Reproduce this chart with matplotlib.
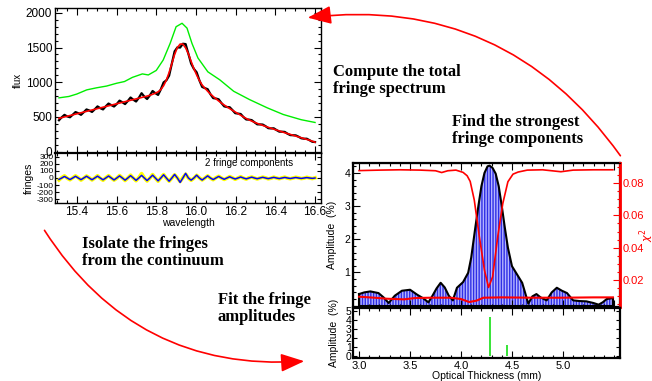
# Fringe fitting overview: flux / fringes on the left, fringe amplitudes on the right
import numpy as np
import matplotlib.pyplot as plt
from matplotlib.patches import FancyArrowPatch
from matplotlib.ticker import MultipleLocator

plt.rcParams['font.family'] = ['Liberation Sans', 'DejaVu Sans']
plt.rcParams['axes.unicode_minus'] = False
plt.rcParams['hatch.linewidth'] = 1.0

W, H = 652, 381

# ---------------- data ----------------
wavelength = np.linspace(15.31, 16.60, 94)

continuum = [480, 490, 500, 510, 520, 530, 540, 550, 560, 570,
             580, 590, 600, 610, 620, 630, 640, 650, 660, 670,
             680, 690, 700, 710, 720, 730, 740, 750, 760, 770,
             780, 790, 800, 812, 826, 842, 862, 895, 950, 1030,
             1140, 1270, 1400, 1500, 1550, 1550, 1495, 1410, 1300, 1195,
             1105, 1025, 960, 915, 870, 830, 795, 762, 730, 700,
             672, 645, 620, 596, 572, 548, 524, 500, 478, 458,
             440, 423, 407, 392, 378, 364, 350, 337, 324, 311,
             298, 285, 272, 260, 248, 236, 224, 212, 200, 188,
             176, 164, 150, 135]

fringe_data = [-28, 5, 30, -3, -25, 2, 30, 4, -30, -2, 28, 3,
               -28, 0, 32, -4, -32, 3, 33, 0, -30, -3, 35, 2,
               -35, 0, 40, -2, -38, 5, 62, 3, -42, -2, 48, 0,
               -45, 3, 48, -3, -45, 0, 45, 2, -50, 5, 55, 0,
               -32, -3, 38, 2, -28, 0, 30, -2, -24, 3, 24, 0,
               -20, -2, 20, 3, -18, 0, 18, -2, -15, 3, 14, 0,
               -14, 0, 12, 3, -12, -3, 12, 0, -10, 2, 12, -2,
               -10, 0, 10, 3, -8, -2, 10, 0, -8, 3]

fringe_model = [-20, 0, 22, 0, -22, 0, 24, 0, -23, 0, 25, 0,
                -24, 0, 26, 0, -25, 0, 28, 0, -27, 0, 30, 0,
                -30, 0, 33, 0, -33, 0, 37, 0, -36, 0, 40, 0,
                -40, 0, 45, 0, -45, 0, 50, 0, -62, 0, 65, 0,
                -30, 0, 40, 0, -28, 0, 30, 0, -22, 0, 22, 0,
                -18, 0, 17, 0, -14, 0, 14, 0, -12, 0, 12, 0,
                -10, 0, 10, 0, -9, 0, 9, 0, -8, 0, 8, 0,
                -7, 0, 7, 0, -6, 0, 6, 0, -5, 0]

green_wl = [15.31, 15.36, 15.40, 15.45, 15.50, 15.55, 15.60, 15.64, 15.68,
            15.73, 15.76, 15.80, 15.835, 15.87, 15.90, 15.93, 15.955, 15.98,
            16.01, 16.06, 16.12, 16.19, 16.27, 16.36, 16.44, 16.53, 16.60]
green_flux = [775, 795, 830, 890, 920, 945, 985, 1010, 1070,
              1120, 1105, 1170, 1320, 1560, 1800, 1850, 1780, 1560,
              1350, 1150, 1035, 870, 750, 630, 535, 460, 420]

# fringe amplitude spectrum
thickness = [3.00, 3.05, 3.11, 3.19, 3.24, 3.29, 3.35, 3.42, 3.50, 3.57,
             3.63, 3.68, 3.72, 3.76, 3.80, 3.84, 3.88, 3.92, 3.96, 4.02,
             4.07, 4.10, 4.14, 4.17, 4.20, 4.23, 4.26, 4.28, 4.31, 4.34,
             4.37, 4.40, 4.43, 4.46, 4.50, 4.55, 4.60, 4.63, 4.66, 4.70,
             4.74, 4.78, 4.84, 4.89, 4.94, 4.99, 5.04, 5.10, 5.16, 5.23,
             5.30, 5.35, 5.39, 5.43, 5.49]
amplitude = [0.35, 0.40, 0.43, 0.38, 0.25, 0.08, 0.30, 0.45, 0.48, 0.33,
             0.22, 0.10, 0.30, 0.52, 0.69, 0.55, 0.30, 0.16, 0.54, 0.71,
             0.99, 1.45, 2.35, 3.00, 3.60, 4.00, 4.20, 4.22, 4.15, 3.98,
             3.60, 3.00, 2.35, 1.75, 1.19, 0.94, 0.69, 0.38, 0.06, 0.28,
             0.35, 0.25, 0.16, 0.40, 0.54, 0.45, 0.38, 0.16, 0.14, 0.13,
             0.08, 0.03, 0.10, 0.20, 0.23]

noise_x = [3.00, 3.15, 3.27, 3.44, 3.55, 3.70, 3.90, 4.00, 4.08, 4.15,
           4.22, 4.40, 4.70, 5.00, 5.30, 5.49]
noise = [0.27, 0.24, 0.21, 0.19, 0.23, 0.24, 0.24, 0.20, 0.11, 0.15,
         0.24, 0.25, 0.24, 0.24, 0.25, 0.25]

chi_x = [3.00, 3.20, 3.40, 3.60, 3.75, 3.81, 3.87, 3.95, 4.02, 4.06,
         4.09, 4.13, 4.18, 4.23, 4.27, 4.31, 4.36, 4.41, 4.46, 4.51,
         4.56, 4.65, 4.80, 4.98, 5.10, 5.30, 5.49]
chi2 = [0.0877, 0.0880, 0.0882, 0.0880, 0.0876, 0.0865, 0.0876, 0.0880, 0.0866, 0.0845,
        0.0810, 0.0695, 0.0467, 0.0261, 0.0154, 0.0220, 0.0467, 0.0674, 0.0808, 0.0855,
        0.0868, 0.0880, 0.0882, 0.0870, 0.0880, 0.0882, 0.0882]

comp_x = [4.28, 4.45]
comp_amp = [4.35, 1.2]


# ---------------- helpers ----------------
def box(l, t, r, b):
    return [l / W, 1 - b / H, (r - l) / W, (b - t) / H]


def idl_ticks(ax, size=8, lw=1.0):
    ax.tick_params(which='both', direction='in', top=True, right=True,
                   labelsize=size, width=0.8, pad=2)
    ax.tick_params(which='major', length=5)
    ax.tick_params(which='minor', length=2.5)
    for s in ax.spines.values():
        s.set_linewidth(lw)


fig = plt.figure(figsize=(6.52, 3.81), dpi=100)

# ---------------- flux panel ----------------
ax1 = fig.add_axes(box(55, 8, 321, 153))
observed = np.array(continuum) + np.array(fringe_data)
ax1.plot(green_wl, green_flux, color='#00ee00', lw=1)
ax1.plot(wavelength, observed, color='black', lw=1.6)
ax1.plot(wavelength, continuum, color='red', lw=1.2)
ax1.set_xlim(15.29, 16.63)
ax1.set_ylim(-20, 2070)
ax1.set_yticks([0, 500, 1000, 1500, 2000])
ax1.yaxis.set_minor_locator(MultipleLocator(100))
ax1.xaxis.set_major_locator(MultipleLocator(0.2))
ax1.xaxis.set_minor_locator(MultipleLocator(0.05))
idl_ticks(ax1, 8.5)
ax1.tick_params(labelbottom=False)
ax1.set_ylabel('flux', fontsize=7, labelpad=2)

# ---------------- fringe panel ----------------
ax2 = fig.add_axes(box(55, 153, 321, 203))
ax2.plot(wavelength, fringe_data, color='#ffff00', lw=2.6)
ax2.plot(wavelength, fringe_model, color='#0000ff', lw=1.1)
ax2.set_xlim(15.29, 16.63)
ax2.set_ylim(-350, 350)
ax2.set_yticks([-300, -200, -100, 0, 100, 200, 300])
ax2.xaxis.set_major_locator(MultipleLocator(0.2))
ax2.xaxis.set_minor_locator(MultipleLocator(0.05))
idl_ticks(ax2, 8.5)
ax2.tick_params(axis='y', labelsize=6, pad=1)
ax2.tick_params(axis='y', which='major', length=3)
ax2.spines['top'].set_linewidth(1.6)
ax2.set_xlabel('wavelength', fontsize=7.5, labelpad=0)
ax2.set_ylabel('fringes', fontsize=7.5, labelpad=2)
ax2.text(0.565, 0.8, '2 fringe components', transform=ax2.transAxes,
         fontsize=7, va='center')

# ---------------- amplitude spectrum ----------------
ax3 = fig.add_axes(box(353, 163, 620, 307))
ax3.fill_between(thickness, 0, amplitude, facecolor='#b4b4ff',
                 edgecolor='#2f2fe6', hatch='||||||', linewidth=0)
ax3.plot(thickness, amplitude, color='black', lw=1.5)
ax3.plot([thickness[0], thickness[0], thickness[-1], thickness[-1]],
         [amplitude[0], 0, 0, amplitude[-1]], color='black', lw=1.5)
ax3.plot(noise_x, noise, color='red', lw=1.5)
ax3.set_xlim(2.94, 5.56)
ax3.set_ylim(-0.04, 4.3)
ax3.set_yticks([1, 2, 3, 4])
ax3.yaxis.set_minor_locator(MultipleLocator(0.2))
ax3.xaxis.set_major_locator(MultipleLocator(0.5))
ax3.xaxis.set_minor_locator(MultipleLocator(0.1))
idl_ticks(ax3, 7.5, lw=1.6)
ax3.tick_params(labelbottom=False, right=False, which='both')
ax3.set_ylabel('Amplitude  (%)', fontsize=7.5, labelpad=5)

ax3b = ax3.twinx()
ax3b.plot(chi_x, chi2, color='red', lw=1.2)
ax3b.set_ylim(0.0033, 0.0924)
ax3b.set_yticks([0.02, 0.04, 0.06, 0.08])
ax3b.set_yticklabels(['0.02', '0.04', '0.06', '0.08'])
ax3b.yaxis.set_minor_locator(MultipleLocator(0.005))
ax3b.tick_params(which='both', direction='in', colors='red', labelsize=8, width=0.8, pad=2)
ax3b.tick_params(which='major', length=5)
ax3b.tick_params(which='minor', length=2.5)
ax3b.spines['right'].set_color('red')
ax3b.spines['right'].set_linewidth(2)
ax3b.set_ylabel(r'$\chi^2$', color='red', fontsize=8)
ax3b.yaxis.set_label_coords(1.065, 0.5)

# ---------------- selected components ----------------
ax4 = fig.add_axes(box(353, 308, 620, 358))
ax4.vlines(comp_x, 0, comp_amp, color='#00dd00', lw=1.1)
ax4.set_xlim(2.94, 5.56)
ax4.set_ylim(-0.22, 5.3)
ax4.set_yticks([0, 1, 2, 3, 4, 5])
ax4.set_xticks([3.0, 3.5, 4.0, 4.5, 5.0])
ax4.set_xticklabels(['3.0', '3.5', '4.0', '4.5', '5.0'])
ax4.xaxis.set_minor_locator(MultipleLocator(0.1))
idl_ticks(ax4, 7.5, lw=1.6)
ax4.tick_params(axis='x', labelsize=8)
ax4.tick_params(axis='y', which='major', length=3, pad=1)
ax4.set_xlabel('Optical Thickness (mm)', fontsize=7.5, labelpad=0)
ax4.set_ylabel('Amplitude  (%)', fontsize=7.5, labelpad=5)

# ---------------- step captions ----------------
cap = dict(fontsize=12, fontweight='bold', family='Liberation Serif',
           va='top', ha='left', linespacing=1.1)
fig.text(333 / W, 1 - 64 / H, 'Compute the total\nfringe spectrum', **cap)
fig.text(452 / W, 1 - 114 / H, 'Find the strongest\nfringe components', **cap)
fig.text(82 / W, 1 - 236 / H, 'Isolate the fringes\nfrom the continuum', **cap)
fig.text(218 / W, 1 - 292 / H, 'Fit the fringe\namplitudes', **cap)

# ---------------- curved arrows ----------------
arrow_style = '-|>,head_length=0.9,head_width=0.35'
a1 = FancyArrowPatch((622 / W, 1 - 158 / H), (305 / W, 1 - 18 / H),
                     transform=fig.transFigure, connectionstyle='arc3,rad=0.3',
                     arrowstyle=arrow_style, mutation_scale=16,
                     color='red', lw=1.2)
a2 = FancyArrowPatch((43 / W, 1 - 228 / H), (307 / W, 1 - 361 / H),
                     transform=fig.transFigure, connectionstyle='arc3,rad=0.3',
                     arrowstyle=arrow_style, mutation_scale=16,
                     color='red', lw=1.2)
fig.add_artist(a1)
fig.add_artist(a2)

fig.savefig('out.png', dpi=100)
